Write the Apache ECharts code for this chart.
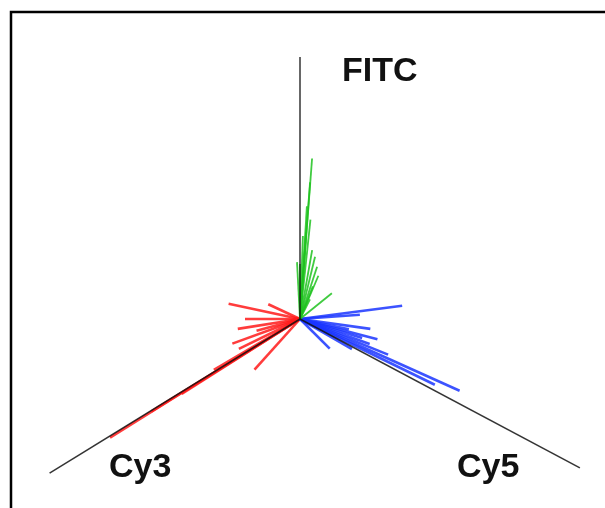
<!DOCTYPE html>
<html>
<head>
<meta charset="utf-8">
<title>FITC / Cy3 / Cy5</title>
<script src="https://cdn.jsdelivr.net/npm/echarts@6/dist/echarts.min.js"></script>
<style>
  html, body { margin: 0; padding: 0; background: #fff; }
  #main { width: 605px; height: 508px; }
</style>
</head>
<body>
<div id="main"></div>
<script>
// three channel axes: angle in degrees (0 = right, counter clockwise), length
const axisNames = ['FITC', 'Cy3', 'Cy5'];
const axisAngles = [90, 211.6, 332];
const axisLengths = [262, 294, 317];

// vectors of each channel (angle, length)
const greenAngles = [85.7, 85.8, 86.5, 86, 88, 76.4, 71.9, 67, 39, 68.5, 93, 90, 63, 84, 80];
const greenLengths = [161, 137, 113, 87, 83, 64, 55, 47, 41, 35, 57, 55, 22, 100, 70];

const redAngles = [168, 155, 180, 189, 200, 206, 212, 228, 212.3, 210.5, 211.9, 195];
const redLengths = [73, 35, 55, 63, 72, 68, 224, 68, 140, 100, 175, 45];

const blueAngles = [7.4, 4, 352, 345.4, 340.3, 315, 335.8, 334, 338, 348, 330, 343];
const blueLengths = [103, 60, 71, 80, 74, 42, 175, 150, 95, 50, 60, 65];

const chart = echarts.init(document.getElementById('main'));

// one line series per vector, from the origin out to the tip
function vectorSeries(angles, lengths, color, width, z) {
  return angles.map((a, i) => ({
    type: 'line',
    coordinateSystem: 'polar',
    data: [[0, a], [lengths[i], a]],
    symbol: 'none',
    silent: true,
    z: z,
    lineStyle: { color: color, width: width, opacity: 0.85 }
  }));
}

const series = []
  .concat(vectorSeries(redAngles, redLengths, '#ff1a1a', 2.6, 2))
  .concat(vectorSeries(blueAngles, blueLengths, '#1a35ff', 2.6, 2))
  .concat(vectorSeries(greenAngles, greenLengths, '#1fc21f', 1.8, 3))
  .concat(vectorSeries(axisAngles, axisLengths, '#111', 1.5, 5));

const labelFont = 'bold 34px "Liberation Sans", Arial, sans-serif';

const option = {
  backgroundColor: '#fff',
  animation: false,
  polar: { center: [300, 319], radius: 330 },
  radiusAxis: {
    min: 0, max: 330, show: false,
    axisLine: { show: false }, axisTick: { show: false },
    axisLabel: { show: false }, splitLine: { show: false }
  },
  angleAxis: {
    type: 'value', min: 0, max: 360, startAngle: 0, clockwise: false, show: false,
    axisLine: { show: false }, axisTick: { show: false },
    axisLabel: { show: false }, splitLine: { show: false }
  },
  graphic: [
    // frame, only top and left edges show
    {
      type: 'polyline',
      shape: { points: [[11, 508], [11, 12], [605, 12]] },
      style: { stroke: '#000', lineWidth: 2.5, fill: null }
    },
    { type: 'text', left: 342, top: 55, style: { text: axisNames[0], font: labelFont, fill: '#111' } },
    { type: 'text', left: 109, top: 451, style: { text: axisNames[1], font: labelFont, fill: '#111' } },
    { type: 'text', left: 457, top: 451, style: { text: axisNames[2], font: labelFont, fill: '#111' } }
  ],
  series: series
};

chart.setOption(option);
</script>
</body>
</html>
